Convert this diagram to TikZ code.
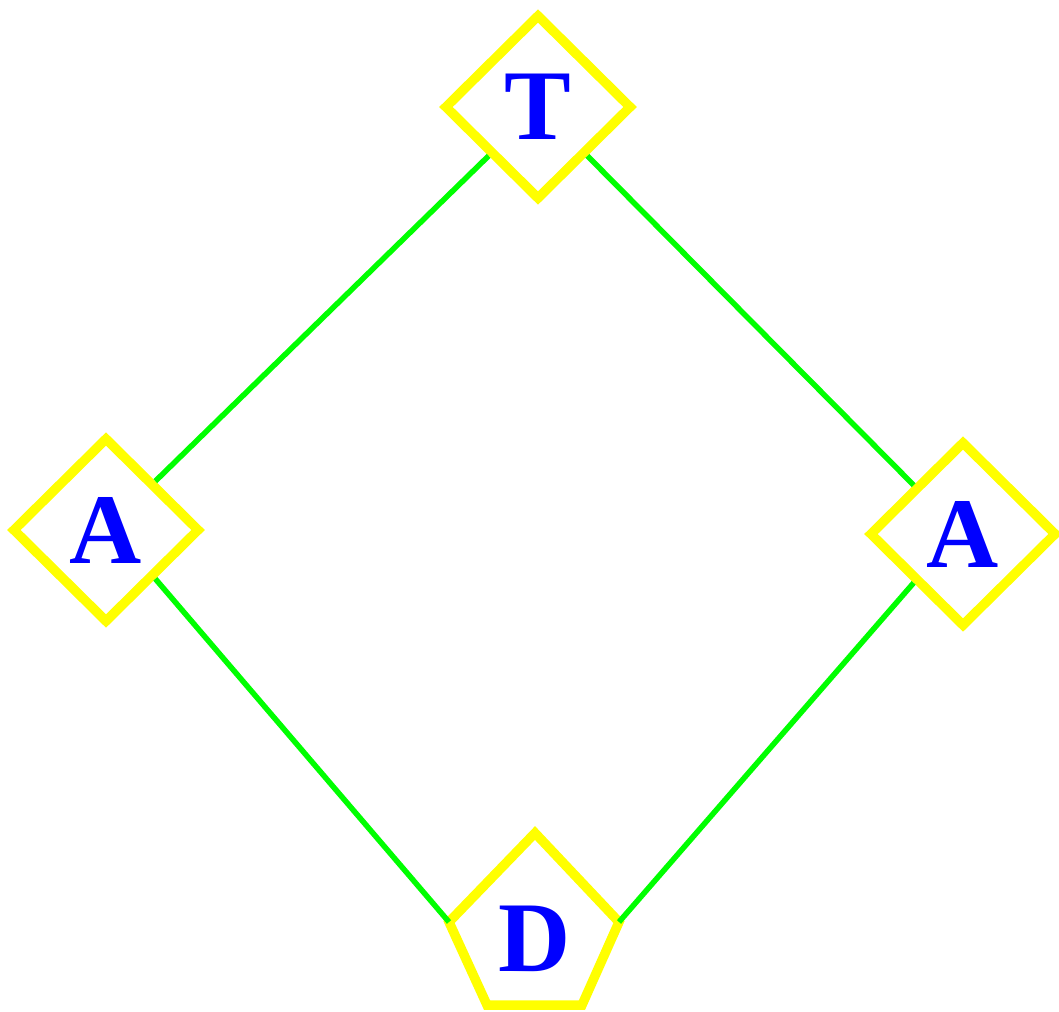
\documentclass[tikz,border=0pt]{standalone}
\usepackage{fontspec}
\setmainfont{Liberation Serif}
\usepackage{tikz}
\usetikzlibrary{shapes.geometric}
\definecolor{ndedge}{RGB}{255,255,0}
\definecolor{ndtext}{RGB}{0,0,255}
\definecolor{lnk}{RGB}{0,255,0}
\tikzset{
  lbl/.style={
    text=ndtext, inner sep=0pt,
    font=\fontsize{100}{100}\selectfont\bfseries
  },
  dia/.style={
    lbl, diamond, draw=ndedge, line width=9.5pt,
    minimum width=188pt, minimum height=186pt
  },
  pent/.style={draw=ndedge, line width=9.5pt, line join=miter},
  link/.style={draw=lnk, line width=5.5pt}
}
\begin{document}
\begin{tikzpicture}[x=1pt, y=-1pt]
  \useasboundingbox (0,0) rectangle (1059,1011);
  \node[dia] (t) at (538,107) {T};
  \node[dia] (al) at (106,530) {A};
  \node[dia] (ar) at (963,534) {A};
  % pentagon for D
  \node[lbl] (d) at (535,939) {D};
  \coordinate (dtop) at (535,833);
  \coordinate (dl) at (449,922);
  \coordinate (dr) at (619,922);
  \coordinate (dbl) at (487,1005);
  \coordinate (dbr) at (582,1005);
  \draw[pent] (dtop) -- (dr) -- (dbr) -- (dbl) -- (dl) -- cycle;
  \foreach \p/\q in {t.south west/al.north east, t.south east/ar.north west,
                     al.south east/dl, ar.south west/dr}
    \draw[link] (\p) -- (\q);
\end{tikzpicture}
\end{document}
